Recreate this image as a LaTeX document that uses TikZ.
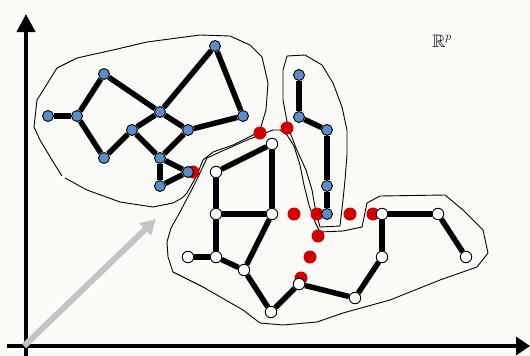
\documentclass[tikz,border=0pt]{standalone}
\usepackage{amssymb}
\usetikzlibrary{arrows.meta}
\definecolor{bg}{HTML}{FAFAF7}
\definecolor{nodeblue}{HTML}{5B8DC9}
\definecolor{dotred}{HTML}{D00000}
\definecolor{arrowgray}{HTML}{C4C4C4}
\begin{document}
\begin{tikzpicture}[x=1pt,y=-1pt,
  bnode/.style={circle,draw=black,line width=0.9pt,fill=nodeblue,minimum size=11pt,inner sep=0pt},
  wnode/.style={circle,draw=black,line width=0.9pt,fill=white,minimum size=11.5pt,inner sep=0pt},
  rdot/.style={circle,fill=dotred,minimum size=13pt,inner sep=0pt},
  edgeline/.style={line width=5.5pt},
  hull/.style={line width=0.9pt,line join=round},
  axisline/.style={line width=4pt,-{Triangle[length=18pt,width=18pt]}}]
\useasboundingbox (0,0) rectangle (530,356);
\fill[bg] (0,0) rectangle (530,356);

% axes
\coordinate (ybot) at (26,356);
\coordinate (ytop) at (26,14);
\coordinate (xleft) at (7,346);
\coordinate (xright) at (530,346);
\draw[axisline] (ybot) -- (ytop);
\draw[line width=4pt,-{Triangle[length=14pt,width=18pt]}] (xleft) -- (xright);

% gray arrow
\coordinate (gs) at (24,346);
\coordinate (ge) at (156,219);
\draw[arrowgray,line width=6pt,-{Triangle[length=15pt,width=16pt]}] (gs) -- (ge);

% label
\node (rp) at (442,41) {\fontsize{18}{18}\selectfont$\mathbb{R}^p$};

% hulls
\draw[hull] (62,176) -- (52,160) -- (40,140) -- (34,127) -- (37,100) -- (57,68) -- (77,58)
  -- (113,50) -- (147,42) -- (200,35) -- (230,36) -- (250,45) -- (262,57) -- (268,83)
  -- (266,110) -- (260,130) -- (253,135) -- (233,145) -- (213,152) -- (203,160)
  -- (197,175) -- (187,193) -- (182,198) -- (173,203) -- (153,207) -- (120,202)
  -- (87,190) -- (65,178);
\draw[hull] (173,272) -- (168,257) -- (167,242) -- (171,228) -- (180,212) -- (190,193)
  -- (200,173) -- (207,158) -- (220,152) -- (247,140) -- (273,130) -- (280,130) -- (287,135)
  -- (294,146) -- (300,165) -- (304,185) -- (309,205) -- (315,222) -- (320,232)
  -- (343,231) -- (362,227) -- (367,203) -- (380,196) -- (445,195) -- (463,210)
  -- (483,230) -- (488,253) -- (477,267) -- (440,280) -- (390,300) -- (343,313)
  -- (317,322) -- (283,325) -- (260,323) -- (243,310) -- (203,287) -- cycle;
\draw[hull] (287,56) -- (305,55) -- (322,65) -- (333,83) -- (342,107) -- (347,130)
  -- (347,155) -- (345,180) -- (343,200) -- (340,226) -- (320,227) -- (316,213)
  -- (312,190) -- (306,170) -- (296,148) -- (288,127) -- (283,100) -- (283,70) -- cycle;

% red dots
\node[rdot] (r1) at (193,172) {};
\node[rdot] (r2) at (260,133) {};
\node[rdot] (r3) at (287,128) {};
\node[rdot] (r4) at (294,214) {};
\node[rdot] (r5) at (317,214) {};
\node[rdot] (r6) at (350,214) {};
\node[rdot] (r7) at (373,214) {};
\node[rdot] (r8) at (318,236) {};
\node[rdot] (r9) at (310,257) {};
\node[rdot] (r10) at (301,278) {};

% blue cluster
\node[bnode] (A) at (48,116) {};
\node[bnode] (B) at (77,116) {};
\node[bnode] (C) at (104,74) {};
\node[bnode] (D) at (104,158) {};
\node[bnode] (E) at (160,112) {};
\node[bnode] (F) at (132,130) {};
\node[bnode] (G) at (188,130) {};
\node[bnode] (H) at (160,158) {};
\node[bnode] (I) at (188,172) {};
\node[bnode] (J) at (160,186) {};
\node[bnode] (K) at (215,46) {};
\node[bnode] (L) at (243,116) {};

% blue chain
\node[bnode] (M1) at (299,75) {};
\node[bnode] (M2) at (299,117) {};
\node[bnode] (M3) at (327,130) {};
\node[bnode] (M4) at (327,186) {};
\node[bnode] (M5) at (327,214) {};

% white cluster
\node[wnode] (W1) at (272,144) {};
\node[wnode] (W2) at (216,172) {};
\node[wnode] (W3) at (216,214) {};
\node[wnode] (W4) at (272,214) {};
\node[wnode] (W5) at (188,257) {};
\node[wnode] (W6) at (216,257) {};
\node[wnode] (W7) at (244,270) {};
\node[wnode] (W8) at (271,312) {};
\node[wnode] (W9) at (299,284) {};
\node[wnode] (W10) at (355,298) {};
\node[wnode] (W11) at (382,257) {};
\node[wnode] (W12) at (382,214) {};
\node[wnode] (W13) at (438,214) {};
\node[wnode] (W14) at (466,257) {};

% edges
\foreach \a/\b in {A/B,B/C,B/D,C/E,D/F,F/E,E/K,K/L,L/G,E/G,F/H,G/H,H/I,H/J,J/I,
  M1/M2,M2/M3,M3/M4,M4/M5,
  W2/W1,W1/W4,W2/W3,W3/W4,W3/W6,W5/W6,W6/W7,W4/W7,W7/W8,W8/W9,W9/W10,W10/W11,W11/W12,W12/W13,W13/W14}
  \draw[edgeline] (\a) -- (\b);
\end{tikzpicture}
\end{document}
